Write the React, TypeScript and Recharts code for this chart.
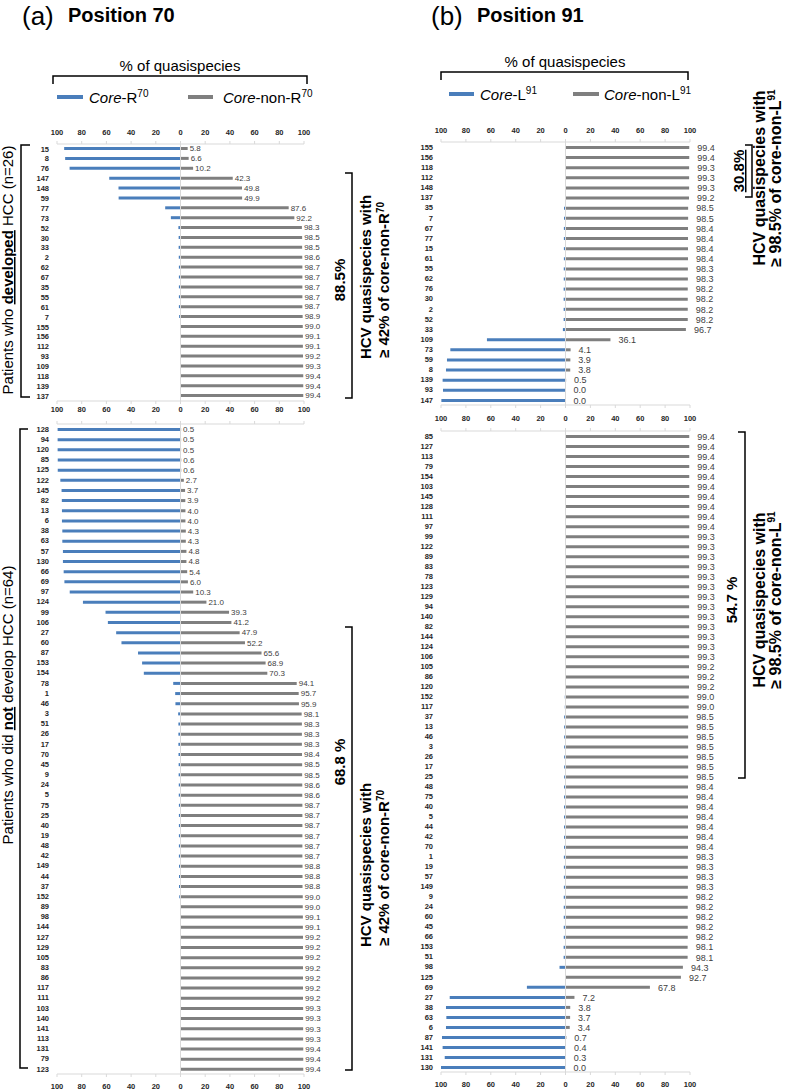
import { Bar, BarChart, LabelList, ReferenceLine, XAxis, YAxis } from "recharts";

const BLUE = "#4a7ebb";
const GRAY = "#7f7f7f";
const AXIS = "#d9d9d9";
const FONT = "'Liberation Sans', Arial, sans-serif";

const axisTicks = [-100, -80, -60, -40, -20, 0, 20, 40, 60, 80, 100];

// (a) position 70 - patients who developed HCC (n=26)
const a1Patients = ["15", "8", "76", "147", "148", "59", "77", "73", "52", "30", "33", "2", "62", "67", "35", "55", "61", "7", "155", "156", "112", "93", "109", "118", "139", "137"];
const a1CoreR = [94.2, 93.4, 89.8, 57.7, 50.2, 50.1, 12.4, 7.8, 1.7, 1.5, 1.5, 1.4, 1.3, 1.3, 1.3, 1.3, 1.3, 1.1, 0.3, 0.3, 0.3, 0.3, 0.2, 0.2, 0.2, 0.2];
const a1CoreNonR = [5.8, 6.6, 10.2, 42.3, 49.8, 49.9, 87.6, 92.2, 98.3, 98.5, 98.5, 98.6, 98.7, 98.7, 98.7, 98.7, 98.7, 98.9, 99.0, 99.1, 99.1, 99.2, 99.3, 99.4, 99.4, 99.4];

// (a) position 70 - patients who did not develop HCC (n=64)
const a2Patients = ["128", "94", "120", "85", "125", "122", "145", "82", "13", "6", "38", "63", "57", "130", "66", "69", "97", "124", "99", "106", "27", "60", "87", "153", "154", "78", "1", "46", "3", "51", "26", "17", "70", "45", "9", "24", "5", "75", "25", "40", "19", "48", "42", "149", "44", "37", "152", "89", "98", "144", "127", "129", "105", "83", "86", "117", "111", "103", "140", "141", "113", "131", "79", "123"];
const a2CoreR = [
  99.5, 99.5, 99.5, 99.4, 99.4, 97.3, 96.3, 96.1, 96.0, 96.0,
  95.7, 95.7, 95.2, 95.2, 94.6, 94.0, 89.7, 79.0, 60.7, 58.8,
  52.1, 47.8, 34.4, 31.1, 29.7, 5.9, 4.3, 4.1, 1.9, 1.7,
  1.7, 1.7, 1.6, 1.5, 1.5, 1.4, 1.4, 1.3, 1.3, 1.3,
  1.3, 1.3, 1.3, 1.2, 1.2, 1.2, 1.0, 0.3, 0.3, 0.3,
  0.3, 0.3, 0.3, 0.3, 0.3, 0.3, 0.3, 0.2, 0.2, 0.2,
  0.2, 0.2, 0.2, 0.2,
];
const a2CoreNonR = [
  0.5, 0.5, 0.5, 0.6, 0.6, 2.7, 3.7, 3.9, 4.0, 4.0,
  4.3, 4.3, 4.8, 4.8, 5.4, 6.0, 10.3, 21.0, 39.3, 41.2,
  47.9, 52.2, 65.6, 68.9, 70.3, 94.1, 95.7, 95.9, 98.1, 98.3,
  98.3, 98.3, 98.4, 98.5, 98.5, 98.6, 98.6, 98.7, 98.7, 98.7,
  98.7, 98.7, 98.7, 98.8, 98.8, 98.8, 99.0, 99.0, 99.1, 99.1,
  99.2, 99.2, 99.2, 99.2, 99.2, 99.2, 99.2, 99.3, 99.3, 99.3,
  99.3, 99.4, 99.4, 99.4,
];

// (b) position 91 - patients who developed HCC (n=26)
const b1Patients = ["155", "156", "118", "112", "148", "137", "35", "7", "67", "77", "15", "61", "55", "62", "76", "30", "2", "52", "33", "109", "73", "59", "8", "139", "93", "147"];
const b1CoreL = [0.2, 0.2, 0.3, 0.3, 0.3, 0.3, 1.2, 1.2, 1.3, 1.3, 1.3, 1.3, 1.4, 1.4, 1.5, 1.5, 1.5, 1.5, 2.1, 63.1, 92.5, 95.2, 96.0, 98.7, 98.4, 99.7];
const b1CoreNonL = [99.4, 99.4, 99.3, 99.3, 99.3, 99.2, 98.5, 98.5, 98.4, 98.4, 98.4, 98.4, 98.3, 98.3, 98.2, 98.2, 98.2, 98.2, 96.7, 36.1, 4.1, 3.9, 3.8, 0.5, 0.0, 0.0];

// (b) position 91 - patients who did not develop HCC (n=64)
const b2Patients = ["85", "127", "113", "79", "154", "103", "145", "128", "111", "97", "99", "122", "89", "83", "78", "123", "129", "94", "140", "82", "144", "124", "106", "105", "86", "120", "152", "117", "37", "13", "46", "3", "26", "17", "25", "48", "75", "40", "5", "44", "42", "70", "1", "19", "57", "149", "9", "24", "60", "45", "66", "153", "51", "98", "125", "69", "27", "38", "63", "6", "87", "141", "131", "130"];
const b2CoreL = [
  0.2, 0.2, 0.2, 0.2, 0.2, 0.2, 0.2, 0.2, 0.2, 0.2,
  0.3, 0.3, 0.3, 0.3, 0.3, 0.3, 0.3, 0.3, 0.3, 0.3,
  0.3, 0.3, 0.3, 0.4, 0.4, 0.4, 0.6, 0.6, 1.1, 1.1,
  1.1, 1.1, 1.1, 1.1, 1.1, 1.2, 1.2, 1.2, 1.2, 1.2,
  1.2, 1.2, 1.3, 1.3, 1.3, 1.3, 1.4, 1.4, 1.4, 1.4,
  1.4, 1.5, 1.5, 4.8, 0.3, 31.0, 93.0, 96.0, 95.7, 96.0,
  99.2, 98.7, 97.0, 100.0,
];
const b2CoreNonL = [
  99.4, 99.4, 99.4, 99.4, 99.4, 99.4, 99.4, 99.4, 99.4, 99.4,
  99.3, 99.3, 99.3, 99.3, 99.3, 99.3, 99.3, 99.3, 99.3, 99.3,
  99.3, 99.3, 99.3, 99.2, 99.2, 99.2, 99.0, 99.0, 98.5, 98.5,
  98.5, 98.5, 98.5, 98.5, 98.5, 98.4, 98.4, 98.4, 98.4, 98.4,
  98.4, 98.4, 98.3, 98.3, 98.3, 98.3, 98.2, 98.2, 98.2, 98.2,
  98.2, 98.1, 98.1, 94.3, 92.7, 67.8, 7.2, 3.8, 3.7, 3.4,
  0.7, 0.4, 0.3, 0.0,
];

type Row = { patient: string; left: number; right: number };

function buildRows(patients: string[], blue: number[], gray: number[]): Row[] {
  return patients.map((p, i) => ({ patient: p, left: -blue[i], right: gray[i] }));
}

const tickStyle = { fill: "#262626", fontSize: 7.5, fontWeight: 700, fontFamily: FONT };
const showTick = (v: number) => String(Math.abs(v));
const hideTick = () => "";

// zero-width gray bars are not drawn, so their "0.0" label hangs off the blue bar
const zeroLabel = (offset: number, size: number) => (props: any) => {
  const box = props.viewBox ?? props;
  const x = Number(box.x);
  const w = Number(box.width);
  const y = Number(box.y);
  const h = Number(box.height);
  if (Number(props.value) !== 0) return null;
  const zx = Math.max(x, x + w);
  return (
    <text x={zx + offset} y={y + h / 2} dy="0.35em" fontSize={size} fill="#404040" fontFamily={FONT}>
      0.0
    </text>
  );
};

type ChartProps = {
  rows: Row[];
  left: number;
  top: number;
  width: number;
  height: number;
  yWidth: number;
  rightMargin: number;
  topH: number;
  bottomH: number;
  topLabels: boolean;
  bottomLabels: boolean;
  topMargin: number;
  bottomMargin: number;
  labelOffset: number;
  labelSize: number;
};

function QuasiChart(p: ChartProps) {
  return (
    <div style={{ position: "absolute", left: p.left, top: p.top }}>
      <BarChart
        width={p.width}
        height={p.height}
        data={p.rows}
        layout="vertical"
        stackOffset="sign"
        barCategoryGap={0}
        margin={{ top: 0, right: p.rightMargin, bottom: 0, left: 0 }}
      >
        <XAxis
          xAxisId="t"
          orientation="top"
          type="number"
          domain={[-100, 100]}
          allowDataOverflow
          ticks={axisTicks}
          height={p.topH}
          axisLine={{ stroke: AXIS }}
          tickLine={{ stroke: AXIS }}
          tickSize={3}
          tickMargin={p.topMargin}
          tick={tickStyle}
          tickFormatter={p.topLabels ? showTick : hideTick}
          interval={0}
        />
        <XAxis
          xAxisId="b"
          orientation="bottom"
          type="number"
          domain={[-100, 100]}
          allowDataOverflow
          ticks={axisTicks}
          height={p.bottomH}
          axisLine={{ stroke: AXIS }}
          tickLine={{ stroke: AXIS }}
          tickSize={3}
          tickMargin={p.bottomMargin}
          tick={tickStyle}
          tickFormatter={p.bottomLabels ? showTick : hideTick}
          interval={0}
        />
        <YAxis
          type="category"
          dataKey="patient"
          width={p.yWidth}
          axisLine={false}
          tickLine={false}
          tickSize={0}
          tickMargin={8}
          interval={0}
          tick={{ fill: "#262626", fontSize: 7.5, fontWeight: 700, fontFamily: FONT }}
        />
        <ReferenceLine xAxisId="t" x={0} stroke={AXIS} />
        <Bar xAxisId="t" dataKey="left" stackId="s" fill={BLUE} barSize={3} isAnimationActive={false}>
          <LabelList dataKey="right" content={zeroLabel(p.labelOffset, p.labelSize)} />
        </Bar>
        <Bar xAxisId="t" dataKey="right" stackId="s" fill={GRAY} barSize={3} isAnimationActive={false}>
          <LabelList
            dataKey="right"
            position="right"
            offset={p.labelOffset}
            formatter={(v: any) => Number(v).toFixed(1)}
            style={{ fontSize: p.labelSize, fill: "#404040", fontFamily: FONT }}
          />
        </Bar>
      </BarChart>
    </div>
  );
}

function VText({ x, y, size, bold, children }: { x: number; y: number; size: number; bold?: boolean; children: any }) {
  return (
    <text
      transform={`translate(${x},${y}) rotate(-90)`}
      textAnchor="middle"
      fontSize={size}
      fontWeight={bold ? 700 : 400}
      fill="#000"
    >
      {children}
    </text>
  );
}

export default function App() {
  const a1 = buildRows(a1Patients, a1CoreR, a1CoreNonR);
  const a2 = buildRows(a2Patients, a2CoreR, a2CoreNonR);
  const b1 = buildRows(b1Patients, b1CoreL, b1CoreNonL);
  const b2 = buildRows(b2Patients, b2CoreL, b2CoreNonL);

  return (
    <div style={{ position: "relative", width: 787, height: 1091, background: "#fff", fontFamily: FONT }}>
      <style>{"body{margin:0}"}</style>

      <QuasiChart rows={a1} left={0} top={124} width={345} height={299} yWidth={57} rightMargin={41}
        topH={20} bottomH={22} topLabels bottomLabels topMargin={6} bottomMargin={3} labelOffset={2} labelSize={8} />
      <QuasiChart rows={a2} left={0} top={414} width={345} height={677} yWidth={57} rightMargin={41}
        topH={10} bottomH={17} topLabels={false} bottomLabels topMargin={6} bottomMargin={7} labelOffset={2} labelSize={8} />
      <QuasiChart rows={b1} left={395} top={122} width={335} height={291} yWidth={46} rightMargin={40}
        topH={20} bottomH={8} topLabels bottomLabels={false} topMargin={6} bottomMargin={3} labelOffset={8} labelSize={9} />
      <QuasiChart rows={b2} left={395} top={411} width={335} height={680} yWidth={46} rightMargin={40}
        topH={20} bottomH={19} topLabels bottomLabels topMargin={7} bottomMargin={7} labelOffset={8} labelSize={9} />

      <svg width={787} height={1091} style={{ position: "absolute", left: 0, top: 0, pointerEvents: "none" }} fontFamily={FONT}>
        {/* titles */}
        <text x={22} y={25} fontSize={26}>(a)</text>
        <text x={68} y={22} fontSize={20} fontWeight={700}>Position 70</text>
        <text x={431} y={25} fontSize={26}>(b)</text>
        <text x={477} y={22} fontSize={20} fontWeight={700}>Position 91</text>

        {/* % of quasispecies */}
        <text x={180} y={71} fontSize={15} textAnchor="middle">% of quasispecies</text>
        <path d="M53 84 V76 H307 V84" fill="none" stroke="#000" strokeWidth={1.5} />
        <text x={565} y={67} fontSize={15} textAnchor="middle">% of quasispecies</text>
        <path d="M441 80 V72 H688 V80" fill="none" stroke="#000" strokeWidth={1.5} />

        {/* legends */}
        <line x1={57} x2={83} y1={97} y2={97} stroke={BLUE} strokeWidth={4} />
        <text x={89} y={103} fontSize={15}>
          <tspan fontStyle="italic">Core</tspan>-R<tspan dy={-6} fontSize={10}>70</tspan>
        </text>
        <line x1={188} x2={213} y1={97} y2={97} stroke={GRAY} strokeWidth={4} />
        <text x={223} y={103} fontSize={15}>
          <tspan fontStyle="italic">Core</tspan>-non-R<tspan dy={-6} fontSize={10}>70</tspan>
        </text>
        <line x1={449} x2={474} y1={94} y2={94} stroke={BLUE} strokeWidth={4} />
        <text x={480} y={100} fontSize={15}>
          <tspan fontStyle="italic">Core</tspan>-L<tspan dy={-6} fontSize={10}>91</tspan>
        </text>
        <line x1={573} x2={599} y1={94} y2={94} stroke={GRAY} strokeWidth={4} />
        <text x={604} y={100} fontSize={15}>
          <tspan fontStyle="italic">Core</tspan>-non-L<tspan dy={-6} fontSize={10}>91</tspan>
        </text>

        {/* left brackets */}
        <path d="M30 145 H21 V397 H30" fill="none" stroke="#000" strokeWidth={1.5} />
        <VText x={13} y={270} size={15}>
          Patients who <tspan fontWeight={700} textDecoration="underline">developed</tspan> HCC (n=26)
        </VText>
        <path d="M28 429 H20 V1068 H28" fill="none" stroke="#000" strokeWidth={1.5} />
        <VText x={13} y={705} size={15}>
          Patients who did <tspan fontWeight={700} textDecoration="underline">not</tspan> develop HCC (n=64)
        </VText>

        {/* right brackets, panel a */}
        <path d="M345 173 H352 V398 H345" fill="none" stroke="#000" strokeWidth={1.5} />
        <VText x={345} y={280} size={15} bold>88.5%</VText>
        <VText x={371} y={277} size={15} bold>HCV quasispecies with</VText>
        <VText x={389} y={280} size={15} bold>
          ≥ 42% of core-non-R<tspan dy={-5} fontSize={10}>70</tspan>
        </VText>

        <path d="M345 627 H352 V1070 H345" fill="none" stroke="#000" strokeWidth={1.5} />
        <VText x={345} y={762} size={15} bold>68.8 %</VText>
        <VText x={371} y={865} size={15} bold>HCV quasispecies with</VText>
        <VText x={389} y={868} size={15} bold>
          ≥ 42% of core-non-R<tspan dy={-5} fontSize={10}>70</tspan>
        </VText>

        {/* right brackets, panel b */}
        <path d="M745 145 H752 V197 H745" fill="none" stroke="#000" strokeWidth={1.5} />
        <VText x={744} y={171} size={15} bold>
          <tspan textDecoration="underline">30.8%</tspan>
        </VText>
        <VText x={765} y={178} size={16} bold>HCV quasispecies with</VText>
        <VText x={781} y={178} size={16} bold>
          ≥ 98.5% of core-non-L<tspan dy={-6} fontSize={10}>91</tspan>
        </VText>

        <path d="M738 432 H745 V778 H738" fill="none" stroke="#000" strokeWidth={1.5} />
        <VText x={737} y={600} size={15} bold>54.7 %</VText>
        <VText x={765} y={600} size={16} bold>HCV quasispecies with</VText>
        <VText x={781} y={600} size={16} bold>
          ≥ 98.5% of core-non-L<tspan dy={-6} fontSize={10}>91</tspan>
        </VText>
      </svg>
    </div>
  );
}
